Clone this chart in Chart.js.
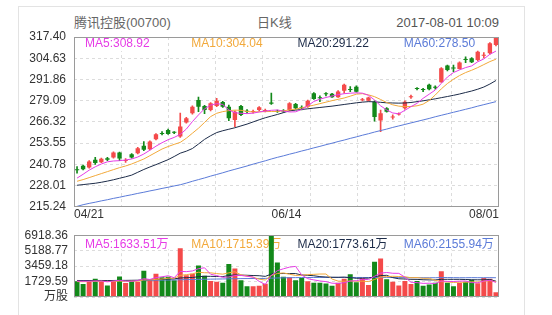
<!DOCTYPE html>
<html><head><meta charset="utf-8">
<script src="https://cdn.jsdelivr.net/npm/chart.js@4"></script>
<style>
html,body{margin:0;padding:0;background:#fff;width:552px;height:315px;overflow:hidden;}
#frame{position:absolute;left:18px;top:6px;width:507px;height:400px;border:1px solid #e3e3e3;box-sizing:border-box;}
.txt{position:absolute;font-family:"Liberation Sans","Noto Sans CJK SC",sans-serif;font-size:13px;line-height:16px;color:#666;white-space:nowrap;}
canvas{position:absolute;left:0;}
</style></head><body>
<div id="frame"></div>
<div class="txt" id="name" style="left:74px;top:15px;"></div>
<div class="txt" id="ktype" style="left:257px;top:15px;"></div>
<div class="txt" id="time" style="right:53px;top:15px;color:#555;"></div>
<canvas id="price" width="552" height="222" style="top:0"></canvas>
<canvas id="vol" width="552" height="93" style="top:222px"></canvas>
<script>
const stockName = '腾讯控股(00700)';
const chartType = '日K线';
const timeStamp = '2017-08-01 10:09';

const dates = ['04/21','04/24','04/25','04/26','04/27','04/28','05/02','05/04','05/05','05/08','05/09','05/10','05/11','05/12','05/15','05/16','05/17','05/18','05/19','05/22','05/23','05/24','05/25','05/26','05/29','05/31','06/01','06/02','06/05','06/06','06/07','06/08','06/09','06/12','06/13','06/14','06/15','06/16','06/19','06/20','06/21','06/22','06/23','06/26','06/27','06/28','06/29','06/30','07/03','07/04','07/05','07/06','07/07','07/10','07/11','07/12','07/13','07/14','07/17','07/18','07/19','07/20','07/21','07/24','07/25','07/26','07/27','07/28','07/31','08/01'];
const xTickIndex = [0, 35, 69];

const openP  = [237.8,239.9,238.9,243.6,242.1,244.5,244.9,247.9,242.8,246.9,247.5,251.9,249.9,255.9,259.3,261.5,260.0,257.5,265.9,271.5,279.5,275.9,273.5,275.9,278.3,275.5,267.5,275.9,273.1,272.3,273.5,272.9,278.0,272.8,273.0,273.5,277.1,274.9,275.5,283.6,280.8,283.2,283.2,281.2,285.1,285.8,287.5,279.3,279.1,278.5,267.1,274.5,269.0,270.8,274.5,281.2,286.4,285.8,288.6,287.1,290.2,300.2,298.8,298.2,303.8,304.6,303.6,306.1,307.6,312.6];
const highP  = [239.5,240.3,243.0,245.0,244.5,245.0,248.3,248.2,244.3,247.2,251.0,254.5,255.0,259.3,260.5,262.0,260.5,271.7,269.0,276.0,281.2,276.3,278.0,280.5,278.7,276.5,273.0,276.3,273.8,273.5,275.5,274.0,283.7,273.5,273.8,278.0,277.5,276.0,279.5,284.0,282.0,284.0,283.5,285.2,289.0,287.5,288.0,280.5,281.3,279.0,273.5,274.9,270.5,271.8,279.0,282.5,287.0,286.5,289.0,288.0,299.0,300.5,300.5,302.5,305.5,305.0,309.0,308.0,314.0,317.4];
const lowP   = [235.5,237.5,238.5,240.8,241.8,243.0,244.5,243.0,242.0,244.5,247.0,249.0,249.5,255.5,258.5,258.8,259.2,257.0,265.5,271.0,272.5,271.3,273.0,275.5,275.0,267.0,263.5,270.0,271.5,271.5,273.0,272.3,276.8,272.0,272.0,273.0,274.0,273.5,275.0,279.8,278.5,282.0,281.0,281.0,283.6,284.5,284.2,279.0,278.8,266.7,260.5,272.2,268.0,270.3,274.0,280.5,285.5,284.5,285.5,286.0,290.0,297.0,296.5,298.0,302.0,302.0,303.0,305.0,307.0,312.0];
const closeP = [237.3,237.9,242.5,241.6,244.1,243.5,247.9,244.3,243.1,244.9,250.5,249.5,254.5,258.9,259.0,259.1,259.8,263.5,268.5,275.5,275.5,273.5,277.6,279.1,275.5,268.5,272.5,270.5,272.5,272.7,275.1,273.2,277.3,272.4,272.6,277.6,274.5,274.6,279.1,280.1,280.5,282.9,281.2,284.6,288.6,285.5,284.5,279.6,281.0,269.2,271.5,272.5,269.4,271.2,278.5,281.5,286.1,285.5,286.0,286.8,298.6,297.6,298.5,302.0,303.5,302.2,308.6,306.4,313.6,316.8];

const ma5  = [232.5,234.8,237.3,239.3,241.0,242.3,242.8,243.0,243.4,244.0,245.2,247.0,249.3,251.7,253.8,255.6,257.0,258.8,262.0,266.5,270.5,274.2,276.4,277.3,276.8,273.5,271.8,271.5,271.3,271.6,272.3,272.8,273.3,273.5,272.8,272.3,272.4,273.8,276.0,278.6,280.0,281.0,281.9,282.7,283.3,283.6,283.8,283.6,282.3,279.5,276.0,273.5,271.7,271.2,273.3,275.5,277.5,280.5,283.0,285.5,289.5,293.3,296.0,297.6,299.0,300.0,302.5,304.2,307.0,308.92];
const ma10 = [230.6,231.6,232.8,234.0,235.2,236.4,237.6,238.8,239.8,241.0,242.5,244.0,246.0,248.0,250.0,251.5,252.8,254.0,256.5,259.5,262.5,266.0,269.5,271.5,272.5,273.1,273.4,273.3,272.6,272.3,272.4,272.5,272.6,272.6,273.0,273.5,274.0,274.8,275.6,276.4,277.3,278.2,279.1,279.9,280.7,281.8,283.0,283.3,282.6,281.5,279.8,278.0,276.6,275.8,275.5,275.6,276.0,277.0,279.2,282.5,286.2,289.4,292.0,294.2,296.0,297.4,299.0,300.8,302.6,304.04];
const ma20 = [228.2,228.6,229.0,229.4,230.0,230.7,231.5,232.4,233.3,234.3,236.0,237.7,239.2,240.6,242.1,243.6,245.5,247.5,248.7,250.3,253.0,255.8,258.0,259.9,261.0,261.9,262.8,263.9,265.0,266.3,267.6,268.8,269.8,270.8,271.9,273.0,273.4,273.8,274.2,274.6,275.0,275.4,275.8,276.3,276.8,277.3,277.8,278.2,278.5,278.4,278.1,277.8,277.7,277.6,277.7,278.0,278.5,279.0,279.6,280.2,280.9,281.6,282.3,283.1,284.0,284.9,286.0,287.3,289.1,291.22];
const ma60 = [215.5,216.5,217.3,218.0,218.8,219.5,220.3,221.0,221.8,222.5,223.3,224.0,224.8,225.5,226.3,227.0,227.8,228.5,229.5,230.6,231.6,232.6,233.7,234.7,235.7,236.8,237.8,238.8,239.8,240.9,241.9,242.9,244.0,245.0,245.9,246.9,247.8,248.8,249.7,250.7,251.6,252.6,253.5,254.5,255.4,256.4,257.3,258.3,259.2,260.2,261.1,262.0,263.0,263.9,264.8,265.7,266.6,267.5,268.4,269.4,270.3,271.2,272.1,273.0,273.9,274.8,275.8,276.7,277.6,278.50];

const volume = [1750,1450,1900,2050,1800,1300,1900,2300,1560,1760,1700,2940,1870,2600,2200,2270,1870,5450,2440,2600,3540,2370,1800,1700,1600,3700,3200,1870,1200,1200,1270,1470,6918.36,3870,2270,2200,1870,2140,1770,1600,1600,1500,1270,1600,2040,2540,1640,2140,1340,3940,4300,2000,1700,1300,1800,1450,1800,1270,1400,1600,2870,1600,1200,1600,1700,1940,1540,2140,2040,530];
const vma5  = [1780,1760,1770,1790,1790,1700,1790,1870,1772,1764,1844,2052,1966,2174,2262,2376,2162,2868,2836,2916,3170,3270,2550,2402,2202,2234,2400,2414,2314,2234,1748,1402,2412,2946,3160,3346,3426,2470,2050,1916,1796,1722,1548,1514,1602,1790,1818,1992,1940,2320,2672,2744,2656,2648,2220,1650,1610,1524,1544,1504,1788,1748,1734,1774,1794,1608,1596,1784,1872,1633.51];
const vma10 = [1720,1710,1730,1760,1760,1740,1750,1780,1760,1777,1772,1921,1918,1973,2013,2110,2107,2417,2505,2589,2773,2716,2709,2619,2559,2702,2835,2482,2358,2218,1991,1901,2413,2630,2697,2547,2414,2441,2498,2538,2571,2574,2009,1782,1759,1793,1770,1770,1727,1961,2231,2281,2324,2294,2270,2161,2177,2090,2096,1862,1719,1679,1629,1659,1649,1698,1672,1759,1823,1715.39];
const vma20 = [1850,1840,1840,1850,1850,1840,1850,1860,1860,1870,1880,1920,1930,1960,1990,2020,2030,2130,2160,2183,2273,2319,2314,2296,2286,2406,2471,2450,2432,2404,2382,2309,2561,2624,2628,2624,2624,2461,2428,2378,2281,2237,2211,2206,2228,2170,2092,2105,2112,2249,2401,2427,2167,2038,2015,1977,1974,1930,1912,1912,1975,1980,1977,1977,1960,1930,1925,1925,1960,1773.61];
const vma60 = [1790,1795,1800,1805,1810,1815,1822,1829,1836,1843,1850,1860,1870,1880,1890,1900,1910,1930,1945,1960,1975,1990,2000,2010,2020,2035,2050,2060,2065,2070,2075,2080,2110,2130,2145,2160,2170,2175,2180,2185,2190,2190,2190,2190,2190,2190,2185,2185,2180,2185,2195,2195,2185,2175,2170,2165,2165,2160,2158,2157,2176,2179,2167,2159,2158,2168,2162,2160,2168,2155.94];

const priceTicks = [215.24,228.01,240.78,253.55,266.32,279.09,291.86,304.63,317.40];
const volTicks = [0,1729.59,3459.18,5188.77,6918.36];
const volUnit = '万';
const volAxisUnit = '万股';

const UP = '#f44a4a', DOWN = '#13891a';
const C5 = '#e63ce6', C10 = '#f2a93b', C20 = '#1c2b48', C60 = '#5b7bd8';
const FONT = '"Liberation Sans", Arial, "Noto Sans CJK SC", sans-serif';

document.getElementById('name').textContent = stockName;
document.getElementById('ktype').textContent = chartType;
document.getElementById('time').textContent = timeStamp;

Chart.defaults.font.family = FONT;
Chart.defaults.font.size = 12;

const dirColor = closeP.map((c, i) => c >= openP[i] ? UP : DOWN);
const last = a => a[a.length - 1];

const framePlugin = {
  id: 'frame',
  beforeDatasetsDraw(chart, args, opts) {
    const {ctx, chartArea: a} = chart;
    ctx.save();
    ctx.font = '12px ' + FONT;
    ctx.textBaseline = 'middle';
    opts.items.forEach((it, k) => {
      const x = a.left + 11 + k * (a.right - a.left) / 4;
      const w = ctx.measureText(it.text).width;
      ctx.fillStyle = '#fff';
      ctx.fillRect(x - 1, a.top + 1, w + 2, 13);
      ctx.fillStyle = it.color;
      ctx.fillText(it.text, x, a.top + opts.dy + 1);
    });
    ctx.restore();
  },
  afterDraw(chart, args, opts) {
    const {ctx, chartArea: a} = chart;
    ctx.save();
    ctx.strokeStyle = '#9a9a9a';
    ctx.lineWidth = 1;
    ctx.strokeRect(Math.round(a.left) + 0.5, Math.round(a.top) + 0.5,
                   Math.round(a.right - a.left) - 1, Math.round(a.bottom - a.top) - 1);
    if (opts.xLabels) {
      ctx.font = '12px ' + FONT;
      ctx.fillStyle = '#333';
      ctx.textBaseline = 'middle';
      const xs = [a.left, (a.left + a.right) / 2, a.right];
      const al = ['left', 'center', 'right'];
      opts.xLabels.forEach((t, k) => {
        ctx.textAlign = al[k];
        ctx.fillText(t, xs[k], a.bottom + 8);
      });
    }
    ctx.restore();
  }
};

function line(data, color) {
  return {type: 'line', data, borderColor: color, borderWidth: 1, pointRadius: 0, tension: 0, fill: false, order: 0};
}
const gridOpts = {color: '#dcdcdc', drawTicks: false};
const borderOpts = {display: false, dash: [3, 3]};
const vGrid = {type: 'linear', position: 'bottom', min: 0, max: 8,
  afterBuildTicks(ax) { ax.ticks = [0,1,2,3,4,5,6,7,8].map(v => ({value: v})); },
  afterFit(ax) { ax.height = 0; },
  grid: gridOpts, border: borderOpts, ticks: {display: false}};

new Chart(document.getElementById('price'), {
  type: 'bar',
  data: {
    labels: dates,
    datasets: [
      line(ma5, C5), line(ma10, C10), line(ma20, C20), line(ma60, C60),
      {type: 'bar', data: dates.map((d, i) => [lowP[i], highP[i]]), backgroundColor: dirColor,
       barThickness: 1, grouped: false, order: 2},
      {type: 'bar', data: dates.map((d, i) => [openP[i], closeP[i]]), backgroundColor: dirColor,
       barPercentage: 0.72, categoryPercentage: 1, grouped: false, minBarLength: 1, order: 1}
    ]
  },
  options: {
    responsive: false, animation: false, events: [],
    layout: {padding: {left: 0, right: 53, top: 37, bottom: 15}},
    plugins: {
      legend: {display: false}, tooltip: {enabled: false},
      frame: {dy: 6, xLabels: xTickIndex.map(i => dates[i]), items: [
        {text: 'MA5:' + last(ma5).toFixed(2), color: C5},
        {text: 'MA10:' + last(ma10).toFixed(2), color: C10},
        {text: 'MA20:' + last(ma20).toFixed(2), color: C20},
        {text: 'MA60:' + last(ma60).toFixed(2), color: C60}
      ]}
    },
    scales: {
      x: {type: 'category', display: false, offset: true},
      x2: vGrid,
      y: {type: 'linear', min: priceTicks[0], max: last(priceTicks),
        afterBuildTicks(ax) { ax.ticks = priceTicks.map(v => ({value: v})); },
        afterFit(ax) { ax.width = 74; },
        grid: gridOpts, border: borderOpts,
        ticks: {padding: 8, color: '#333', callback: v => Number(v).toFixed(2)}
      }
    }
  },
  plugins: [framePlugin]
});

new Chart(document.getElementById('vol'), {
  type: 'bar',
  data: {
    labels: dates,
    datasets: [
      line(vma5, C5), line(vma10, C10), line(vma20, C20), line(vma60, C60),
      {type: 'bar', data: volume, backgroundColor: dirColor, barPercentage: 0.82, categoryPercentage: 1, order: 1}
    ]
  },
  options: {
    responsive: false, animation: false, events: [],
    layout: {padding: {left: 0, right: 53, top: 5, bottom: 18}},
    plugins: {
      legend: {display: false}, tooltip: {enabled: false},
      frame: {dy: 8, items: [
        {text: 'MA5:' + last(vma5).toFixed(2) + volUnit, color: C5},
        {text: 'MA10:' + last(vma10).toFixed(2) + volUnit, color: C10},
        {text: 'MA20:' + last(vma20).toFixed(2) + volUnit, color: C20},
        {text: 'MA60:' + last(vma60).toFixed(2) + volUnit, color: C60}
      ]}
    },
    scales: {
      x: {type: 'category', display: false, offset: true},
      x2: vGrid,
      y: {type: 'linear', min: 0, max: last(volTicks),
        afterBuildTicks(ax) { ax.ticks = volTicks.map(v => ({value: v})); },
        afterFit(ax) { ax.width = 74; },
        grid: gridOpts, border: borderOpts,
        ticks: {padding: 6, color: '#333', callback: v => v === 0 ? volAxisUnit : Number(v).toFixed(2)}
      }
    }
  },
  plugins: [framePlugin]
});
</script>
</body></html>
